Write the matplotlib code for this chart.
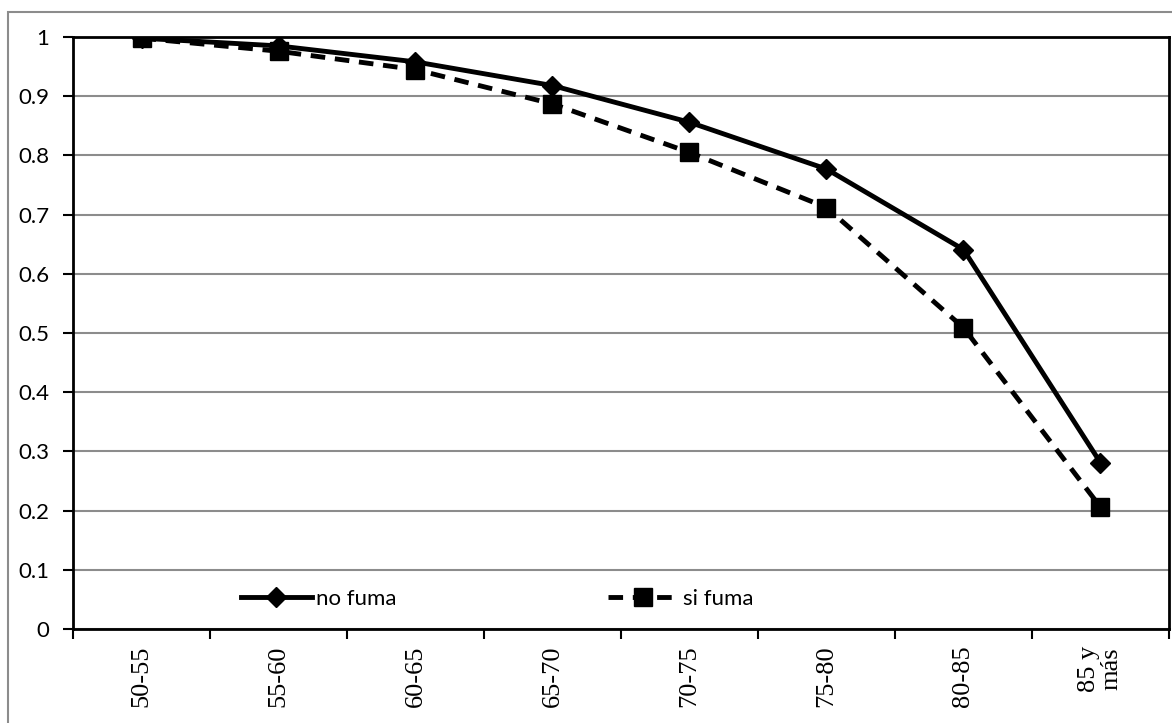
import matplotlib
matplotlib.use("Agg")
import matplotlib.pyplot as plt
from matplotlib.patches import Rectangle

# age groups and survival proportions
categories = ["50-55", "55-60", "60-65", "65-70", "70-75", "75-80", "80-85", "85 y\nmás"]
no_fuma = [0.998, 0.985, 0.958, 0.918, 0.856, 0.777, 0.641, 0.281]
si_fuma = [0.998, 0.976, 0.945, 0.887, 0.805, 0.712, 0.509, 0.206]
y_ticks = [0, 0.1, 0.2, 0.3, 0.4, 0.5, 0.6, 0.7, 0.8, 0.9, 1]
y_labels = ["0", "0.1", "0.2", "0.3", "0.4", "0.5", "0.6", "0.7", "0.8", "0.9", "1"]

fig = plt.figure(figsize=(11.72, 7.23), dpi=100)
ax = fig.add_axes([0.0623, 0.130, 0.9351, 0.8188])

# outer chart border (only top/left visible)
fig.patches.append(Rectangle((0.0068, -0.1), 1.2, 0.9834 + 0.1, transform=fig.transFigure,
                             fill=False, edgecolor="#8c8c8c", linewidth=1.5))

x = list(range(len(categories)))
ax.plot(x, no_fuma, color="black", linewidth=3.5, marker="D", markersize=10,
        label="no fuma", zorder=3)
ax.plot(x, si_fuma, color="black", linewidth=3.5, linestyle=(0, (3, 2)), marker="s",
        markersize=13, label="si fuma", zorder=3)

ax.set_xlim(-0.5, len(categories) - 0.5)
ax.set_ylim(0, 1)
ax.set_yticks(y_ticks)
ax.set_yticklabels(y_labels, fontfamily="Lato", fontsize=16)
ax.set_xticks([i + 0.5 for i in range(-1, len(categories))], minor=False)
ax.set_xticklabels([])
ax.set_xticks(x, minor=True)
ax.set_xticklabels(categories, minor=True, rotation=90, fontfamily="Liberation Serif",
                   fontsize=19, va="top", ha="center", linespacing=1.0)
ax.tick_params(axis="x", which="minor", length=0, pad=12)
ax.tick_params(axis="x", which="major", length=7, width=1.5, direction="out")
ax.tick_params(axis="y", length=7, width=1.5, direction="out", pad=10)

ax.grid(axis="y", color="#8c8c8c", linewidth=1.5)
ax.set_axisbelow(True)
for s in ax.spines.values():
    s.set_linewidth(2)
    s.set_color("black")

ax.legend(loc="center", bbox_to_anchor=(0.387, 0.051), ncol=2, frameon=False,
          handlelength=3.2, columnspacing=9.5, handletextpad=0.2,
          prop={"family": "Lato", "size": 16})

fig.savefig("out.png", dpi=100)
